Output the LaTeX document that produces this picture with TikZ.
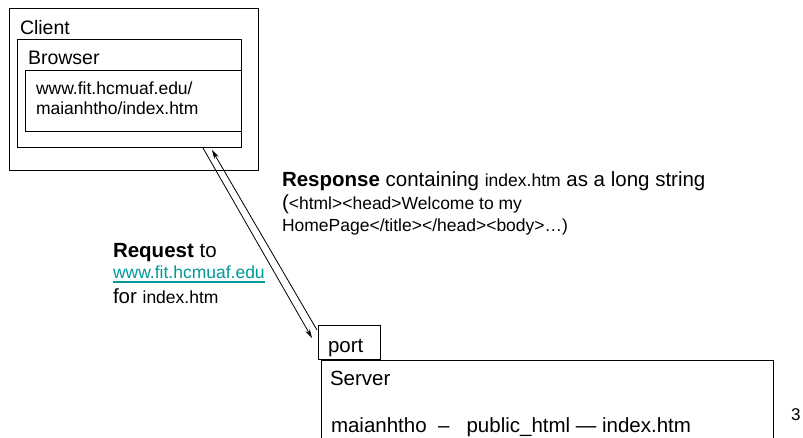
\documentclass[tikz,border=0pt]{standalone}
\usepackage{fontspec}
\setmainfont{Liberation Sans}
\usetikzlibrary{arrows.meta}
\definecolor{linkteal}{RGB}{0,153,153}
\newcommand\fbig{\fontsize{20.5}{24}\selectfont}
\newcommand\fsm{\fontsize{17.5}{21}\selectfont}
\begin{document}
\begin{tikzpicture}[x=1pt,y=-1pt,
  box/.style={draw, line width=1pt, inner sep=0pt, outer sep=0pt, anchor=north west},
  txt/.style={anchor=base west, inner sep=0pt, outer sep=0pt},
  arr/.style={line width=0.8pt, -{Stealth[length=9pt,width=5pt]}}]
\useasboundingbox (0,0) rectangle (803,438);
\fill[white] (0,0) rectangle (803,438);
% client side
\node[box, minimum width=249pt, minimum height=162pt] (client) at (9,9) {};
\node[box, minimum width=224pt, minimum height=108pt] (browser) at (17,40) {};
\node[box, minimum width=216pt, minimum height=61pt] (urlbox) at (25,71) {};
\node[txt] (clientlbl) at (20,35) {\fontsize{19.5}{22}\selectfont Client};
\node[txt] (browserlbl) at (28,65) {\fontsize{19.5}{22}\selectfont Browser};
\node[txt] (url1) at (36,95) {\fsm www.fit.hcmuaf.edu/};
\node[txt] (url2) at (36,115) {\fsm maianhtho/index.htm};
% server side
\node[box, minimum width=62pt, minimum height=34pt] (port) at (318,325) {};
\node[txt] (portlbl) at (328,352) {\fbig port};
\node[inner sep=0pt, outer sep=0pt, anchor=north west, minimum width=452pt, minimum height=78pt] (server) at (321,360) {};
\draw[line width=1pt] (server.south west) -- (server.north west) -- (server.north east) -- (server.south east);
\node[txt] (serverlbl) at (330,385) {\fbig Server};
\node[txt] (path) at (331,432) {\fbig maianhtho\ \ –\ \ \ public\_html — index.htm};
\node[txt] (pagenum) at (791,420) {\fontsize{17}{20}\selectfont 3};
% connectors
\coordinate (reqS) at (203,148);
\coordinate (reqE) at (312,338);
\coordinate (resS) at (317,330);
\coordinate (resE) at (212,150);
\draw[arr] (reqS) -- (reqE);
\draw[arr] (resS) -- (resE);
% labels
\node[txt] (resp1) at (282,187) {\fbig\textbf{Response} containing {\fsm index.htm} as a long string};
\node[txt] (resp2) at (282,210) {\fbig(\fsm <html><head>Welcome to my};
\node[txt] (resp3) at (282,232) {\fsm HomePage</title></head><body>…)};
\node[txt] (req1) at (113,258) {\fbig\textbf{Request} to};
\node[txt] (req2) at (113,279) {\fsm\textcolor{linkteal}{www.fit.hcmuaf.edu}};
\draw[linkteal, line width=1.4pt] ([yshift=-3pt]req2.base west) -- ([yshift=-3pt]req2.base east);
\node[txt] (req3) at (113,303) {\fbig for {\fsm index.htm}};
\end{tikzpicture}
\end{document}
